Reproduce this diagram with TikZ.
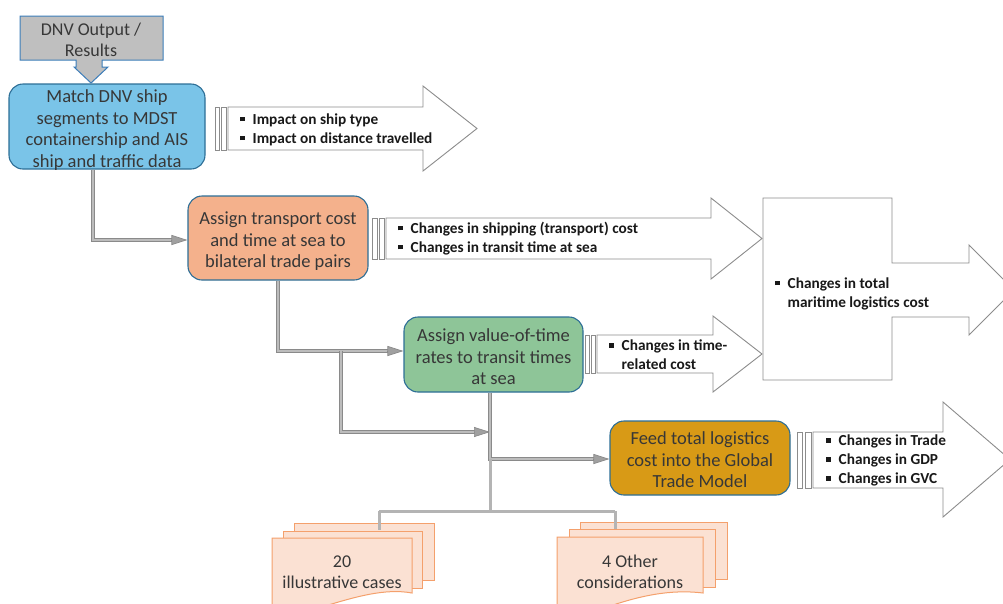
\documentclass[tikz,border=0pt]{standalone}
\usepackage{fontspec}
\setmainfont{Carlito}
\usetikzlibrary{arrows.meta}
\definecolor{boxline}{RGB}{45,110,150}
\definecolor{dnvline}{RGB}{60,125,185}
\definecolor{dnvfill}{RGB}{191,191,191}
\definecolor{matchc}{RGB}{122,196,232}
\definecolor{orangec}{RGB}{244,177,140}
\definecolor{greenc}{RGB}{142,197,152}
\definecolor{goldc}{RGB}{216,154,22}
\definecolor{docfill}{RGB}{251,225,211}
\definecolor{docline}{RGB}{244,160,108}
\definecolor{arrline}{RGB}{140,140,140}
\definecolor{connouter}{RGB}{138,138,138}
\definecolor{conninner}{RGB}{188,188,188}
\definecolor{treec}{RGB}{180,180,180}
\definecolor{txt}{RGB}{55,55,55}
\definecolor{btxt}{RGB}{25,25,25}
\newcommand\bsq{\rule[3pt]{4.5pt}{4.5pt}}
\newcommand\bitem{\makebox[12.5pt][l]{\bsq}}
\newcommand\bcont{\makebox[12.5pt]{}}
\begin{document}
\begin{tikzpicture}[x=1pt,y=-1pt,
  procbox/.style={rounded corners=14pt, draw=boxline, line width=1.1pt, inner sep=0pt},
  boxtext/.style={align=center, text=txt, font=\fontsize{18.5}{21.5}\selectfont, inner sep=0pt},
  bigarrow/.style={draw=arrline, fill=white, line width=0.9pt, line join=miter},
  barbox/.style={draw=arrline, fill=white, line width=0.8pt},
  bullets/.style={anchor=west, align=left, inner sep=0pt, text=btxt, font=\fontsize{15.3}{19}\selectfont\bfseries},
  dconn/.style={draw=connouter, double=conninner, double distance=2pt, line width=1pt},
  dtip/.style={-{Triangle[length=16pt,width=10pt,fill=conninner!85!black]}, draw=connouter, line width=0.7pt},
  tree/.style={draw=treec, line width=3pt},
  page/.style={draw=docline, fill=docfill, line width=1pt},
  doctext/.style={align=center, text=txt, font=\fontsize{18}{21}\selectfont, inner sep=0pt}
]
\useasboundingbox (0,0) rectangle (1003,603);
\clip (0,0) rectangle (1003,603);

% DNV callout
\draw[draw=dnvline, fill=dnvfill, line width=1pt] (20,16) -- (163,16) -- (163,60) -- (102,60) -- (102,67) -- (108,67) -- (91,83) -- (74,67) -- (76,67) -- (76,60) -- (20,60) -- cycle;
\node[boxtext, font=\fontsize{18}{21.5}\selectfont] (dnv) at (91,40) {DNV Output /\\Results};

% process boxes
\node[procbox, fill=matchc, minimum width=196pt, minimum height=85pt] (match) at (107,126.5) {};
\node[boxtext, yshift=-3.5pt] (matchtxt) at (match) {Match DNV ship\\segments to MDST\\containership and AIS\\ship and traffic data};
\node[procbox, fill=orangec, minimum width=180pt, minimum height=84pt] (orange) at (278,238) {};
\node[boxtext, yshift=-3.5pt] (orangetxt) at (orange) {Assign transport cost\\and time at sea to\\bilateral trade pairs};
\node[procbox, fill=greenc, minimum width=179pt, minimum height=75pt] (green) at (493.5,354.5) {};
\node[boxtext, yshift=-2.5pt] (greentxt) at (green) {Assign value-of-time\\rates to transit times\\at sea};
\node[procbox, fill=goldc, minimum width=180pt, minimum height=74pt] (gold) at (700,458) {};
\node[boxtext, yshift=-2pt] (goldtxt) at (gold) {Feed total logistics\\cost into the Global\\Trade Model};

% arrow 1
\draw[barbox] (215,107) rectangle (219.5,150);
\draw[barbox] (221,107) rectangle (226,150);
\draw[bigarrow] (228,107) -- (423,107) -- (423,86) -- (477,128.5) -- (423,171) -- (423,150) -- (228,150) -- cycle;
\node[bullets] (t1) at (240,129.5) {\bitem Impact on ship type\\\bitem Impact on distance travelled};

% arrow 2
\draw[barbox] (372,218) rectangle (377,259);
\draw[barbox] (379,218) rectangle (384,259);
\draw[bigarrow] (386,218) -- (711,218) -- (711,198) -- (762,238.5) -- (711,279) -- (711,259) -- (386,259) -- cycle;
\node[bullets] (t2) at (398,238.5) {\bitem Changes in shipping (transport) cost\\\bitem Changes in transit time at sea};

% arrow 3
\draw[barbox] (585,335) rectangle (589.5,373);
\draw[barbox] (591,335) rectangle (595.5,373);
\draw[bigarrow] (597,335) -- (713,335) -- (713,316) -- (762,354) -- (713,392) -- (713,373) -- (597,373) -- cycle;
\node[bullets] (t3) at (609,355) {\bitem Changes in time-\\\bcont related cost};

% big box with arrow
\draw[bigarrow] (763,198) -- (892,198) -- (892,263) -- (969,263) -- (969,245) -- (1014,290) -- (969,335) -- (969,317) -- (892,317) -- (892,380) -- (763,380) -- cycle;
\node[bullets] (t4) at (775,293.5) {\bitem Changes in total\\\bcont maritime logistics cost};

% arrow 4
\draw[barbox] (797,432) rectangle (802,488);
\draw[barbox] (805,432) rectangle (811,488);
\draw[bigarrow] (813,432) -- (943,432) -- (943,402) -- (1010,459.5) -- (943,517) -- (943,488) -- (813,488) -- cycle;
\node[bullets] (t5) at (826,460.5) {\bitem Changes in Trade\\\bitem Changes in GDP\\\bitem Changes in GVC};

% connector coordinates
\coordinate (k1) at (93,240);
\coordinate (k2) at (278,351);
\coordinate (k3) at (341,351);
\coordinate (k4) at (341,432);
\coordinate (k5) at (490,432);
\coordinate (k6) at (490,459);
\coordinate (k7) at (490,511);
\coordinate (k8) at (379,511);
\coordinate (k9) at (615,511);

% double connectors
\draw[dconn] (match.south -| k1) -- (k1) -- ([xshift=-15pt]orange.west |- k1);
\draw[dtip] ([xshift=-16pt]orange.west |- k1) -- (orange.west |- k1);
\draw[dconn] (orange.south -| k2) -- (k2) -- ([xshift=-15pt]green.west |- k2);
\draw[dtip] ([xshift=-16pt]green.west |- k2) -- (green.west |- k2);
\draw[dconn] (k3) -- (k4) -- ([xshift=-15pt]k5);
\draw[dtip] ([xshift=-16pt]k5) -- (k5);
\draw[dconn] (green.south -| k6) -- (k6) -- ([xshift=-15pt]gold.west |- k6);
\draw[dtip] ([xshift=-16pt]gold.west |- k6) -- (gold.west |- k6);

% documents
\draw[page] (294,523) rectangle (434,580);
\draw[page] (580,522) rectangle (727,579);
\draw[tree] (k6) -- (k7);
\draw[tree] (k8) -- (k9);
\coordinate (d1top) at (379,530);
\coordinate (d2top) at (615,530);
\draw[tree] (k8) -- (d1top);
\draw[tree] (k9) -- (d2top);
\draw[page] (283,531) rectangle (422,588);
\draw[page] (569,529) rectangle (715,587);
\draw[page] (272,538) -- (412,538) -- (412,593) .. controls (385,588) and (355,597) .. (325,606) -- (272,614) -- cycle;
\draw[page] (557,537) -- (703,537) -- (703,593) .. controls (670,589) and (640,596) .. (610,606) -- (557,614) -- cycle;
\node[doctext] (doc1) at (342,572.5) {20\\illustrative cases};
\node[doctext] (doc2) at (630,571.5) {4 Other\\considerations};
\end{tikzpicture}
\end{document}
